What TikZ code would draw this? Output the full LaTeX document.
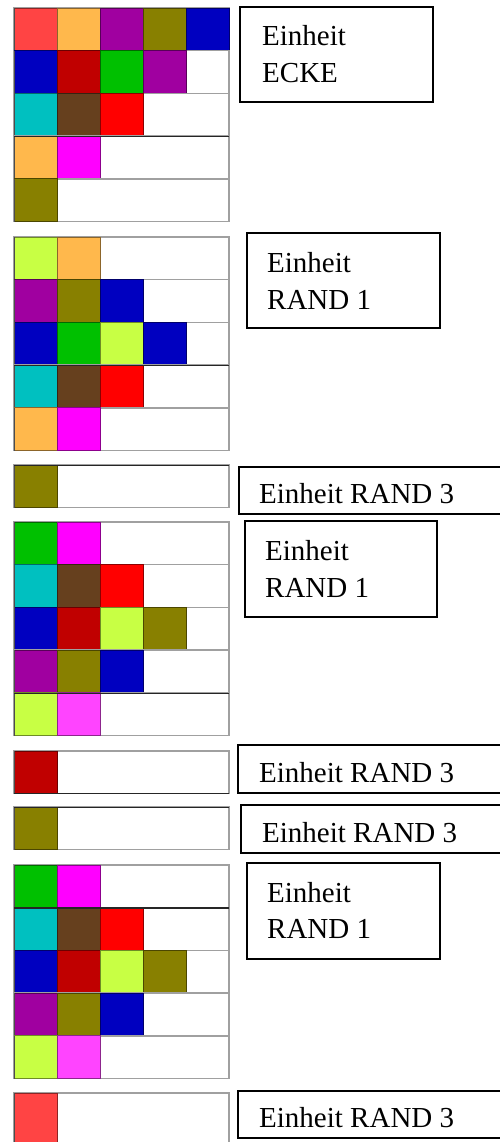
\documentclass[tikz,border=0pt]{standalone}
\usepackage{fontspec}
\setmainfont{Liberation Serif}
\definecolor{cSal}{RGB}{255,68,68}
\definecolor{cOra}{RGB}{255,184,76}
\definecolor{cPur}{RGB}{160,0,160}
\definecolor{cOli}{RGB}{136,128,0}
\definecolor{cBlu}{RGB}{0,0,192}
\definecolor{cDrd}{RGB}{192,0,0}
\definecolor{cGrn}{RGB}{0,192,0}
\definecolor{cCya}{RGB}{0,192,192}
\definecolor{cBrn}{RGB}{102,64,30}
\definecolor{cRed}{RGB}{255,0,0}
\definecolor{cMag}{RGB}{255,0,255}
\definecolor{cYgr}{RGB}{200,255,68}
\definecolor{cPnk}{RGB}{255,68,255}
\definecolor{rowgray}{RGB}{160,160,160}
\newcommand\cellrow[3]{% #1 top y, #2 height, #3 colours
  \draw[rowbox] (14,#1) rectangle (229,#1+#2);
  \foreach \cc [count=\ii from 0] in {#3} {
    \fill[\cc] (14+43*\ii,#1) rectangle (57+43*\ii,#1+#2);
    \draw[cellline,\cc!55!black] (14+43*\ii,#1) rectangle (57+43*\ii,#1+#2);
  }
  \draw[leftedge] (14,#1) -- (14,#1+#2);
}
\begin{document}
\begin{tikzpicture}[x=1pt,y=-1pt,
  rowbox/.style={draw=rowgray,fill=white,line width=1.5pt},
  cellline/.style={line width=0.8pt},
  leftedge/.style={draw=black!70,line width=1pt},
  darksep/.style={draw=black!85,line width=1.2pt},
  labelbox/.style={draw=black,line width=2pt,inner sep=0pt,anchor=north west},
  lbl/.style={inner sep=0pt,anchor=base west,font=\fontsize{29}{35}\selectfont}]
\useasboundingbox (0,0) rectangle (500,1142);
\fill[white] (0,0) rectangle (500,1142);
\def\rh{42.7}
% block 1
\cellrow{8}{\rh}{cSal,cOra,cPur,cOli,cBlu}
\cellrow{50.7}{\rh}{cBlu,cDrd,cGrn,cPur}
\cellrow{93.4}{\rh}{cCya,cBrn,cRed}
\cellrow{136.1}{\rh}{cOra,cMag}
\cellrow{178.8}{\rh}{cOli}
\draw[darksep] (14,136.6) -- (229,136.6);
% block 2
\cellrow{237}{\rh}{cYgr,cOra}
\cellrow{279.7}{\rh}{cPur,cOli,cBlu}
\cellrow{322.4}{\rh}{cBlu,cGrn,cYgr,cBlu}
\cellrow{365.1}{\rh}{cCya,cBrn,cRed}
\cellrow{407.8}{\rh}{cOra,cMag}
\draw[darksep] (14,365.3) -- (229,365.3);
% block 3
\cellrow{465}{\rh}{cOli}
\draw[darksep] (14,465.3) -- (229,465.3);
% block 4
\cellrow{522}{\rh}{cGrn,cMag}
\cellrow{564.7}{\rh}{cCya,cBrn,cRed}
\cellrow{607.4}{\rh}{cBlu,cDrd,cYgr,cOli}
\cellrow{650.1}{\rh}{cPur,cOli,cBlu}
\cellrow{692.8}{\rh}{cYgr,cPnk}
\draw[darksep] (14,693.2) -- (229,693.2);
% block 5
\cellrow{751}{\rh}{cDrd}
\draw[darksep] (14,793.4) -- (229,793.4);
% block 6
\cellrow{807}{\rh}{cOli}
\draw[darksep] (14,807.3) -- (229,807.3);
% block 7
\cellrow{865}{\rh}{cGrn,cMag}
\cellrow{907.7}{\rh}{cCya,cBrn,cRed}
\cellrow{950.4}{\rh}{cBlu,cDrd,cYgr,cOli}
\cellrow{993.1}{\rh}{cPur,cOli,cBlu}
\cellrow{1035.8}{\rh}{cYgr,cPnk}
\draw[darksep] (14,907.9) -- (229,907.9);
% block 8
\cellrow{1093}{55}{cSal}
% label boxes
\node[labelbox,minimum width=193pt,minimum height=95pt] (b1) at (239,6) {};
\node[lbl] (t1a) at (262,46) {Einheit};
\node[lbl] (t1b) at (262,83) {ECKE};
\node[labelbox,minimum width=193pt,minimum height=95pt] (b2) at (246,232) {};
\node[lbl] (t2a) at (267,272) {Einheit};
\node[lbl] (t2b) at (267,309) {RAND 1};
\node[labelbox,minimum width=266pt,minimum height=47pt] (b3) at (238,466) {};
\node[lbl] (t3) at (259,503) {Einheit RAND 3};
\node[labelbox,minimum width=192pt,minimum height=96pt] (b4) at (244,520) {};
\node[lbl] (t4a) at (265,560) {Einheit};
\node[lbl] (t4b) at (265,597) {RAND 1};
\node[labelbox,minimum width=267pt,minimum height=48pt] (b5) at (237,744) {};
\node[lbl] (t5) at (259,782) {Einheit RAND 3};
\node[labelbox,minimum width=264pt,minimum height=48pt] (b6) at (240,804) {};
\node[lbl] (t6) at (262,842) {Einheit RAND 3};
\node[labelbox,minimum width=193pt,minimum height=96pt] (b7) at (246,862) {};
\node[lbl] (t7a) at (267,902) {Einheit};
\node[lbl] (t7b) at (267,938) {RAND 1};
\node[labelbox,minimum width=267pt,minimum height=47pt] (b8) at (237,1090) {};
\node[lbl] (t8) at (259,1127) {Einheit RAND 3};
\end{tikzpicture}
\end{document}
